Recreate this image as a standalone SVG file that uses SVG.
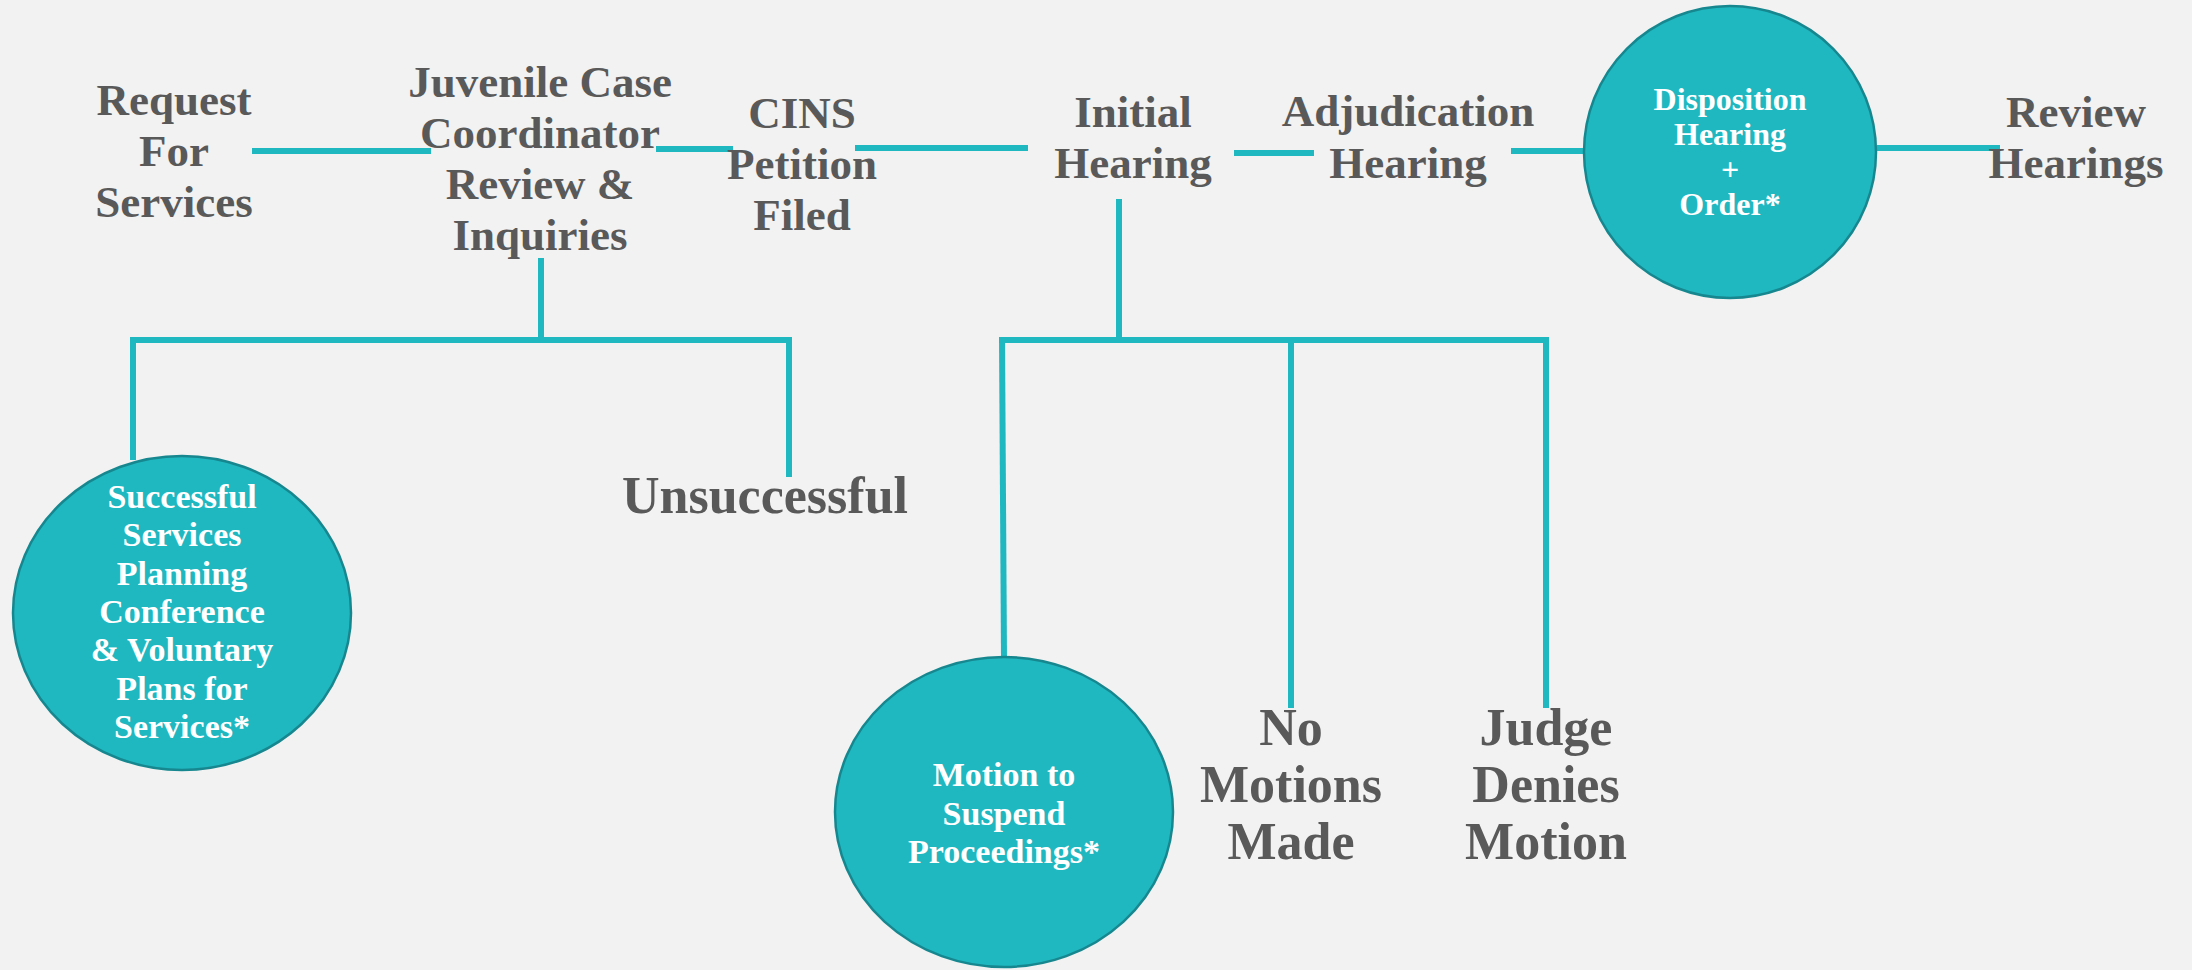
<svg xmlns="http://www.w3.org/2000/svg" width="2192" height="970" viewBox="0 0 2192 970">
<style>
.bg{fill:#F2F2F2}
.ln{stroke:#1FB8C1;stroke-width:6;fill:none;stroke-linecap:butt}
.node{fill:#1FB8C1;stroke:#17878F;stroke-width:2.5}
.t{font-family:"Liberation Serif","Times New Roman",serif;font-weight:bold;fill:#595959;text-anchor:middle}
.m{font-size:45px}
.l{font-size:52px}
.w{font-family:"Liberation Serif","Times New Roman",serif;font-weight:bold;fill:#FFFFFF;text-anchor:middle}
.ws{font-size:34px}
.wd{font-size:32px}
</style>
<rect class="bg" x="0" y="0" width="2192" height="970"/>
<g id="connectors">
<line class="ln" x1="252" y1="151" x2="431" y2="151"/>
<line class="ln" x1="656" y1="149" x2="733" y2="149"/>
<line class="ln" x1="855" y1="148" x2="1028" y2="148"/>
<line class="ln" x1="1234" y1="153" x2="1314" y2="153"/>
<line class="ln" x1="1511" y1="151" x2="1583" y2="151"/>
<line class="ln" x1="1877" y1="148" x2="2000" y2="148"/>
<line class="ln" x1="541" y1="258" x2="541" y2="340"/>
<line class="ln" x1="130" y1="340" x2="792" y2="340"/>
<line class="ln" x1="133" y1="337" x2="133" y2="460"/>
<line class="ln" x1="789" y1="337" x2="789" y2="477"/>
<line class="ln" x1="1119" y1="199" x2="1119" y2="340"/>
<line class="ln" x1="999" y1="340" x2="1549" y2="340"/>
<line class="ln" x1="1002" y1="337" x2="1004" y2="658"/>
<line class="ln" x1="1291" y1="337" x2="1291" y2="708"/>
<line class="ln" x1="1546" y1="337" x2="1546" y2="708"/>
</g>
<g id="request">
<text class="t m" x="174" y="115">Request</text>
<text class="t m" x="174" y="166">For</text>
<text class="t m" x="174" y="217">Services</text>
</g>
<g id="coordinator">
<text class="t m" x="540" y="97">Juvenile Case</text>
<text class="t m" x="540" y="148">Coordinator</text>
<text class="t m" x="540" y="199">Review &amp;</text>
<text class="t m" x="540" y="250">Inquiries</text>
</g>
<g id="cins">
<text class="t m" x="802" y="128">CINS</text>
<text class="t m" x="802" y="179">Petition</text>
<text class="t m" x="802" y="230">Filed</text>
</g>
<g id="initial">
<text class="t m" x="1133" y="127">Initial</text>
<text class="t m" x="1133" y="178">Hearing</text>
</g>
<g id="adjudication">
<text class="t m" x="1408" y="126">Adjudication</text>
<text class="t m" x="1408" y="178">Hearing</text>
</g>
<g id="disposition">
<circle class="node" cx="1730" cy="152" r="146"/>
<text class="w wd" x="1730" y="110">Disposition</text>
<text class="w wd" x="1730" y="145">Hearing</text>
<text class="w wd" x="1730" y="180">+</text>
<text class="w wd" x="1730" y="215">Order*</text>
</g>
<g id="review">
<text class="t m" x="2076" y="127">Review</text>
<text class="t m" x="2076" y="178">Hearings</text>
</g>
<g id="successful">
<ellipse class="node" cx="182" cy="613" rx="169" ry="157"/>
<text class="w ws" x="182" y="508">Successful</text>
<text class="w ws" x="182" y="546">Services</text>
<text class="w ws" x="182" y="585">Planning</text>
<text class="w ws" x="182" y="623">Conference</text>
<text class="w ws" x="182" y="661">&amp; Voluntary</text>
<text class="w ws" x="182" y="700">Plans for</text>
<text class="w ws" x="182" y="738">Services*</text>
</g>
<g id="unsuccessful">
<text class="t l" x="765" y="513">Unsuccessful</text>
</g>
<g id="motion">
<ellipse class="node" cx="1004" cy="812" rx="169" ry="155"/>
<text class="w ws" x="1004" y="786">Motion to</text>
<text class="w ws" x="1004" y="825">Suspend</text>
<text class="w ws" x="1004" y="863">Proceedings*</text>
</g>
<g id="nomotions">
<text class="t l" x="1291" y="745">No</text>
<text class="t l" x="1291" y="802">Motions</text>
<text class="t l" x="1291" y="859">Made</text>
</g>
<g id="judgedenies">
<text class="t l" x="1546" y="745">Judge</text>
<text class="t l" x="1546" y="802">Denies</text>
<text class="t l" x="1546" y="859">Motion</text>
</g>
</svg>
